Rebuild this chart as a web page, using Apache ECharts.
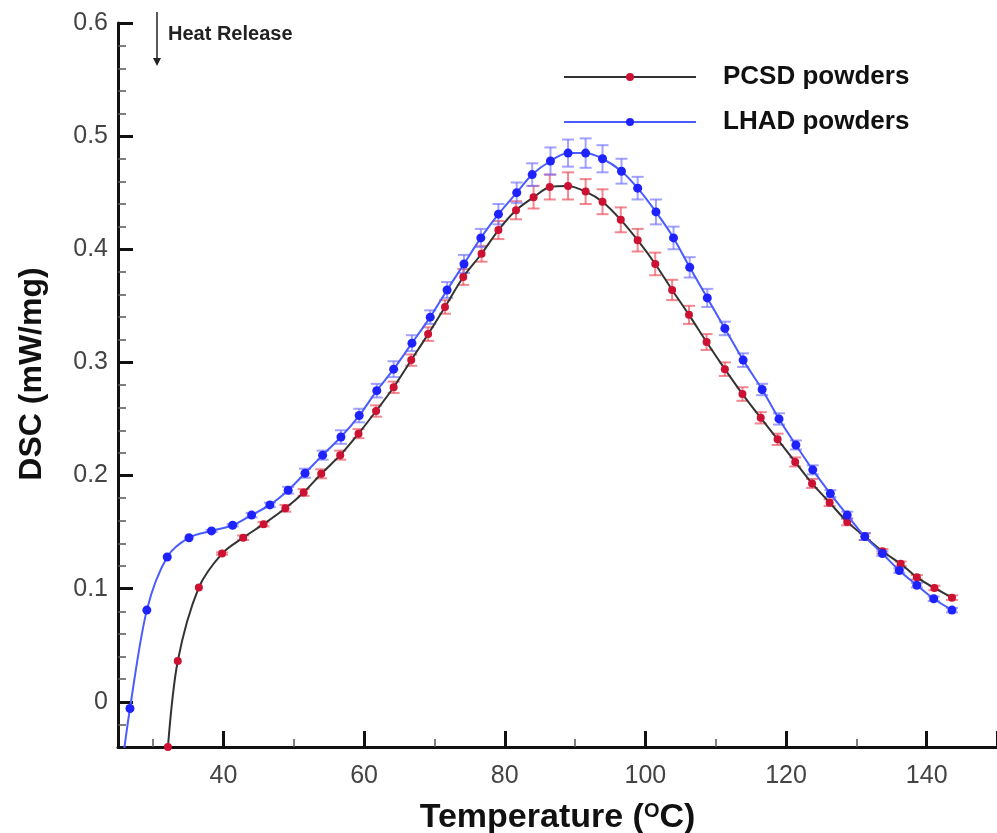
<!DOCTYPE html>
<html>
<head>
<meta charset="utf-8">
<script src="https://cdn.jsdelivr.net/npm/echarts@6/dist/echarts.min.js"></script>
<style>
html,body{margin:0;padding:0;background:#fff;}
#chart{width:997px;height:833px;}
</style>
</head>
<body>
<div id="chart"></div>
<script>
// ---- data ----
const pcsdT = [32.1,33.5,36.5,39.8,42.8,45.7,48.8,51.4,53.9,56.6,59.2,61.7,64.2,66.7,69.1,71.5,74.1,76.7,79.1,81.6,84.1,86.4,89.0,91.5,93.9,96.5,98.9,101.4,103.8,106.2,108.7,111.3,113.8,116.4,118.8,121.3,123.7,126.2,128.7,131.2,133.7,136.3,138.6,141.1,143.6];
const pcsdDSC = [-0.040,0.036,0.101,0.131,0.145,0.157,0.171,0.185,0.2015,0.218,0.237,0.257,0.278,0.302,0.325,0.349,0.3755,0.396,0.417,0.4345,0.446,0.455,0.456,0.451,0.442,0.426,0.408,0.387,0.364,0.342,0.318,0.294,0.272,0.251,0.232,0.212,0.193,0.176,0.159,0.146,0.133,0.122,0.110,0.1006,0.092];
const pcsdErr = [0,0,0,0.001,0.002,0.002,0.003,0.003,0.004,0.004,0.004,0.005,0.005,0.005,0.006,0.006,0.007,0.007,0.008,0.008,0.010,0.011,0.012,0.011,0.011,0.011,0.010,0.010,0.009,0.008,0.007,0.006,0.006,0.005,0.005,0.004,0.004,0.003,0.003,0.003,0.002,0.002,0.002,0.002,0.002];

const lhadT = [25.5,26.7,29.1,32.0,35.1,38.3,41.3,44.0,46.6,49.2,51.6,54.1,56.7,59.3,61.8,64.2,66.8,69.4,71.8,74.2,76.6,79.1,81.7,83.9,86.5,89.0,91.5,93.9,96.6,98.9,101.5,104.0,106.3,108.8,111.3,113.9,116.6,119.0,121.4,123.8,126.3,128.7,131.2,133.7,136.1,138.6,141.0,143.6];
const lhadDSC = [-0.060,-0.006,0.081,0.128,0.145,0.151,0.156,0.165,0.174,0.187,0.202,0.218,0.234,0.253,0.275,0.294,0.317,0.340,0.364,0.387,0.410,0.431,0.450,0.466,0.478,0.485,0.485,0.480,0.469,0.454,0.433,0.410,0.384,0.357,0.330,0.302,0.276,0.250,0.227,0.205,0.184,0.165,0.146,0.131,0.116,0.103,0.091,0.081];
const lhadErr = [0,0,0,0,0,0.001,0.001,0.002,0.002,0.003,0.004,0.004,0.006,0.006,0.006,0.007,0.007,0.006,0.007,0.008,0.008,0.009,0.009,0.010,0.012,0.012,0.013,0.012,0.011,0.010,0.011,0.010,0.009,0.008,0.006,0.006,0.005,0.005,0.004,0.004,0.003,0.003,0.003,0.002,0.002,0.002,0.002,0.002];

const seriesNames = ['PCSD powders','LHAD powders'];
const xName = 'Temperature ({sup|O}C)';
const yName = 'DSC (mW/mg)';
const annotation = 'Heat Release';

// ---- build ----
const FONT = '"Liberation Sans", Arial, Helvetica, sans-serif';
const pcsdData = pcsdT.map((t,i)=>[t,pcsdDSC[i]]);
const lhadData = lhadT.map((t,i)=>[t,lhadDSC[i]]);
const pcsdErrData = pcsdT.map((t,i)=>[t,pcsdDSC[i]-pcsdErr[i],pcsdDSC[i]+pcsdErr[i]]).filter((d,i)=>pcsdErr[i]>0);
const lhadErrData = lhadT.map((t,i)=>[t,lhadDSC[i]-lhadErr[i],lhadDSC[i]+lhadErr[i]]).filter((d,i)=>lhadErr[i]>0);

function errRender(color){
  return function(params, api){
    const x = api.value(0);
    const lo = api.coord([x, api.value(1)]);
    const hi = api.coord([x, api.value(2)]);
    const hw = 6;
    const style = {stroke: color, lineWidth: 2};
    return {type:'group', children:[
      {type:'line', shape:{x1:lo[0],y1:lo[1],x2:hi[0],y2:hi[1]}, style},
      {type:'line', shape:{x1:lo[0]-hw,y1:lo[1],x2:lo[0]+hw,y2:lo[1]}, style},
      {type:'line', shape:{x1:hi[0]-hw,y1:hi[1],x2:hi[0]+hw,y2:hi[1]}, style}
    ]};
  };
}

function isMult(v, step){ return Math.abs(v/step - Math.round(v/step)) < 1e-6; }

const chart = echarts.init(document.getElementById('chart'), null, {renderer:'canvas'});
chart.setOption({
  animation:false,
  backgroundColor:'#fff',
  textStyle:{fontFamily:FONT},
  grid:{left:118, right:0, top:23, bottom:86, containLabel:false, outerBoundsMode:'none'},
  legend:{
    orient:'vertical', left:558, top:59,
    itemWidth:132, itemHeight:10, itemGap:19,
    data:seriesNames,
    textStyle:{fontSize:26, fontWeight:'bold', color:'#111', fontFamily:FONT, lineHeight:26, padding:[0,0,0,22]}
  },
  xAxis:{
    type:'value', min:25, max:150, splitNumber:6,
    axisLine:{show:true, onZero:false, lineStyle:{color:'#111', width:3}},
    axisTick:{show:true, inside:true, length:16, lineStyle:{color:'#111', width:3}},
    minorTick:{show:true, splitNumber:2, length:8, lineStyle:{color:'#555', width:1.5}},
    splitLine:{show:false},
    axisLabel:{fontSize:25, color:'#444', margin:17, fontFamily:FONT,
      formatter:v=> isMult(v,20) ? String(Math.round(v)) : ''},
    name:xName, nameLocation:'middle', nameGap:54,
    nameTextStyle:{fontSize:34, fontWeight:'bold', color:'#111', fontFamily:FONT,
      rich:{sup:{fontSize:20, fontWeight:'bold', color:'#111', fontFamily:FONT, verticalAlign:'top', lineHeight:20}}}
  },
  yAxis:{
    type:'value', min:-0.04, max:0.6, splitNumber:6,
    axisLine:{show:true, onZero:false, lineStyle:{color:'#111', width:3}},
    axisTick:{show:true, inside:true, length:15, lineStyle:{color:'#111', width:3}},
    minorTick:{show:true, splitNumber:5, length:8, lineStyle:{color:'#555', width:1.5}},
    splitLine:{show:false},
    axisLabel:{fontSize:25, color:'#444', margin:10, fontFamily:FONT,
      formatter:v=> isMult(v,0.1) ? (Math.abs(v)<1e-9 ? '0' : v.toFixed(1)) : ''},
    name:yName, nameLocation:'middle', nameGap:70,
    nameTextStyle:{fontSize:32, fontWeight:'bold', color:'#111', fontFamily:FONT, padding:[0,0,0,22]}
  },
  graphic:[
    {type:'line', shape:{x1:157,y1:12,x2:157,y2:60}, style:{stroke:'#222', lineWidth:1.5}},
    {type:'polygon', shape:{points:[[153,58],[161,58],[157,66]]}, style:{fill:'#222'}},
    {type:'text', left:168, top:24, style:{text:annotation, font:'bold 20px '+FONT, fill:'#222'}}
  ],
  series:[
    {type:'custom', name:'pcsdErr', data:pcsdErrData, renderItem:errRender('rgba(235,70,85,0.65)'), clip:true, z:1, silent:true},
    {type:'custom', name:'lhadErr', data:lhadErrData, renderItem:errRender('rgba(110,110,255,0.65)'), clip:true, z:1, silent:true},
    {type:'line', name:seriesNames[0], data:pcsdData, smooth:0.3, clip:true,
      symbol:'circle', symbolSize:8, showAllSymbol:true,
      lineStyle:{color:'#333', width:2}, itemStyle:{color:'#cc1133'}, z:3},
    {type:'line', name:seriesNames[1], data:lhadData, smooth:0.3, clip:true,
      symbol:'circle', symbolSize:9, showAllSymbol:true,
      lineStyle:{color:'#4a5cff', width:2}, itemStyle:{color:'#1e22ff'}, z:4}
  ]
});
</script>
</body>
</html>
